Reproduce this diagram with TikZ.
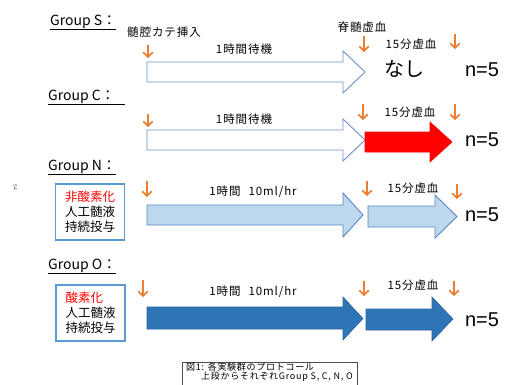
\documentclass[tikz,border=0pt]{standalone}
\usepackage{fontspec}
\setmainfont{Noto Sans CJK JP}
\newfontfamily\jpl[LetterSpace=8]{Noto Sans CJK JP}
\newfontfamily\arialf{Liberation Sans}
\usetikzlibrary{arrows.meta}
\definecolor{orng}{HTML}{ED7D31}
\definecolor{oline}{HTML}{6F8FC8}
\definecolor{lbfill}{HTML}{BDD7EE}
\definecolor{lbline}{HTML}{5A86C2}
\definecolor{dbfill}{HTML}{2E75B6}
\definecolor{dbline}{HTML}{2F64A0}
\definecolor{boxline}{HTML}{5B9BD5}
\newcommand\blkarr[8]{\draw[#1] (#2,#5) -- (#3,#5) -- (#3,#7) -- (#4,{(#7+#8)/2}) -- (#3,#8) -- (#3,#6) -- (#2,#6) -- cycle;}
\begin{document}
\begin{tikzpicture}[x=1pt,y=-1pt,
  grp/.style={anchor=base west, inner sep=0pt, font=\fontsize{14}{16}\selectfont},
  lbl/.style={inner sep=0pt, font=\jpl\fontsize{11.5}{13}\selectfont},
  nn/.style={inner sep=0pt, font=\arialf\fontsize{20}{22}\selectfont},
  captxt/.style={anchor=west, inner sep=0pt, font=\jpl\fontsize{9}{10}\selectfont},
  oarr/.style={draw=orng, line width=1.7pt, -{Straight Barb[length=4.5pt,width=9.5pt]}},
  outarr/.style={draw=oline, fill=white, line width=0.9pt},
  redarr/.style={draw=red, fill=red, line width=0.6pt},
  lbarr/.style={draw=lbline, fill=lbfill, line width=0.9pt},
  dbarr/.style={draw=dbline, fill=dbfill, line width=0.6pt},
  infbox/.style={draw=boxline, line width=1.5pt, minimum width=69pt, minimum height=56pt, inner sep=0pt, align=left, font=\fontsize{12.5}{15}\selectfont}
]
\useasboundingbox (0,0) rectangle (505,384);
\fill[white] (0,0) rectangle (505,384);

% ---------- Group S ----------
\node[grp] (gS) at (50,25) {\underline{Group S：}};
\node[lbl] (tS1) at (164,32) {髄腔カテ挿入};
\node[lbl] (tS2) at (244,49) {1時間待機};
\node[lbl] (tS3) at (362,27) {脊髄虚血};
\node[lbl] (tS4) at (411,44) {15分虚血};
\node[inner sep=0pt, font=\fontsize{20}{22}\selectfont] (tS5) at (404,69) {なし};
\node[nn] (nS) at (482,70) {n=5};
\blkarr{outarr}{147}{343}{365}{62}{82}{51}{93}
\draw[oarr] (148,45) -- (148,58);
\draw[oarr] (364,36) -- (364,52);
\draw[oarr] (455,34) -- (455,49);

% ---------- Group C ----------
\node[grp] (gC) at (48,100) {\underline{Group C：\hspace{10pt}}};
\node[lbl] (tC1) at (244,119) {1時間待機};
\node[lbl] (tC2) at (410,112) {15分虚血};
\node[nn] (nC) at (482,140) {n=5};
\blkarr{outarr}{147}{343}{365}{130}{150}{119}{161}
\blkarr{redarr}{365}{430}{452}{132}{152}{122}{162}
\draw[oarr] (148,114) -- (148,127);
\draw[oarr] (363,104) -- (363,120);
\draw[oarr] (455,104) -- (455,120);

% ---------- Group N ----------
\node[grp] (gN) at (48,170) {\underline{Group N：}};
\node[infbox] (bN) at (90,212) {\textcolor{red}{非酸素化}\\人工髄液\\持続投与};
\node[lbl] (tN1) at (253,192) {1時間\hspace{8pt}10ml/hr};
\node[lbl] (tN2) at (413,188) {15分虚血};
\node[nn] (nN) at (482,215) {n=5};
\blkarr{lbarr}{147}{343}{363}{205}{225}{193}{237}
\blkarr{lbarr}{368}{435}{457}{206}{227}{195}{238}
\draw[oarr] (147,181) -- (147,197);
\draw[oarr] (367,181) -- (367,196);
\draw[oarr] (457,184) -- (457,199);

% ---------- Group O ----------
\node[grp] (gO) at (48,269) {\underline{Group O：}};
\node[infbox] (bO) at (90.5,313) {\textcolor{red}{酸素化}\\人工髄液\\持続投与};
\node[lbl] (tO1) at (253,292) {1時間\hspace{8pt}10ml/hr};
\node[lbl] (tO2) at (413,285) {15分虚血};
\node[nn] (nO) at (482,320) {n=5};
\blkarr{dbarr}{147}{343}{363}{307}{329}{297}{340}
\blkarr{dbarr}{366}{432}{453}{309}{330}{297}{341}
\draw[oarr] (143,280) -- (143,297);
\draw[oarr] (364,281) -- (364,296);
\draw[oarr] (454,281) -- (454,296);

% ---------- caption ----------
\node[draw=black!70, line width=0.5pt, anchor=north west, minimum width=175pt, minimum height=30pt, inner sep=0pt] (cap) at (182,362) {};
\node[captxt] (cap1) at (186,367) {図1: 各実験群のプロトコール};
\node[captxt] (cap2) at (201,377) {上段からそれぞれGroup S, C, N, O};
\node[rotate=-90, inner sep=0pt, text=black!70, font=\fontsize{5}{5}\selectfont] (pg) at (15,187) {54};
\end{tikzpicture}
\end{document}
